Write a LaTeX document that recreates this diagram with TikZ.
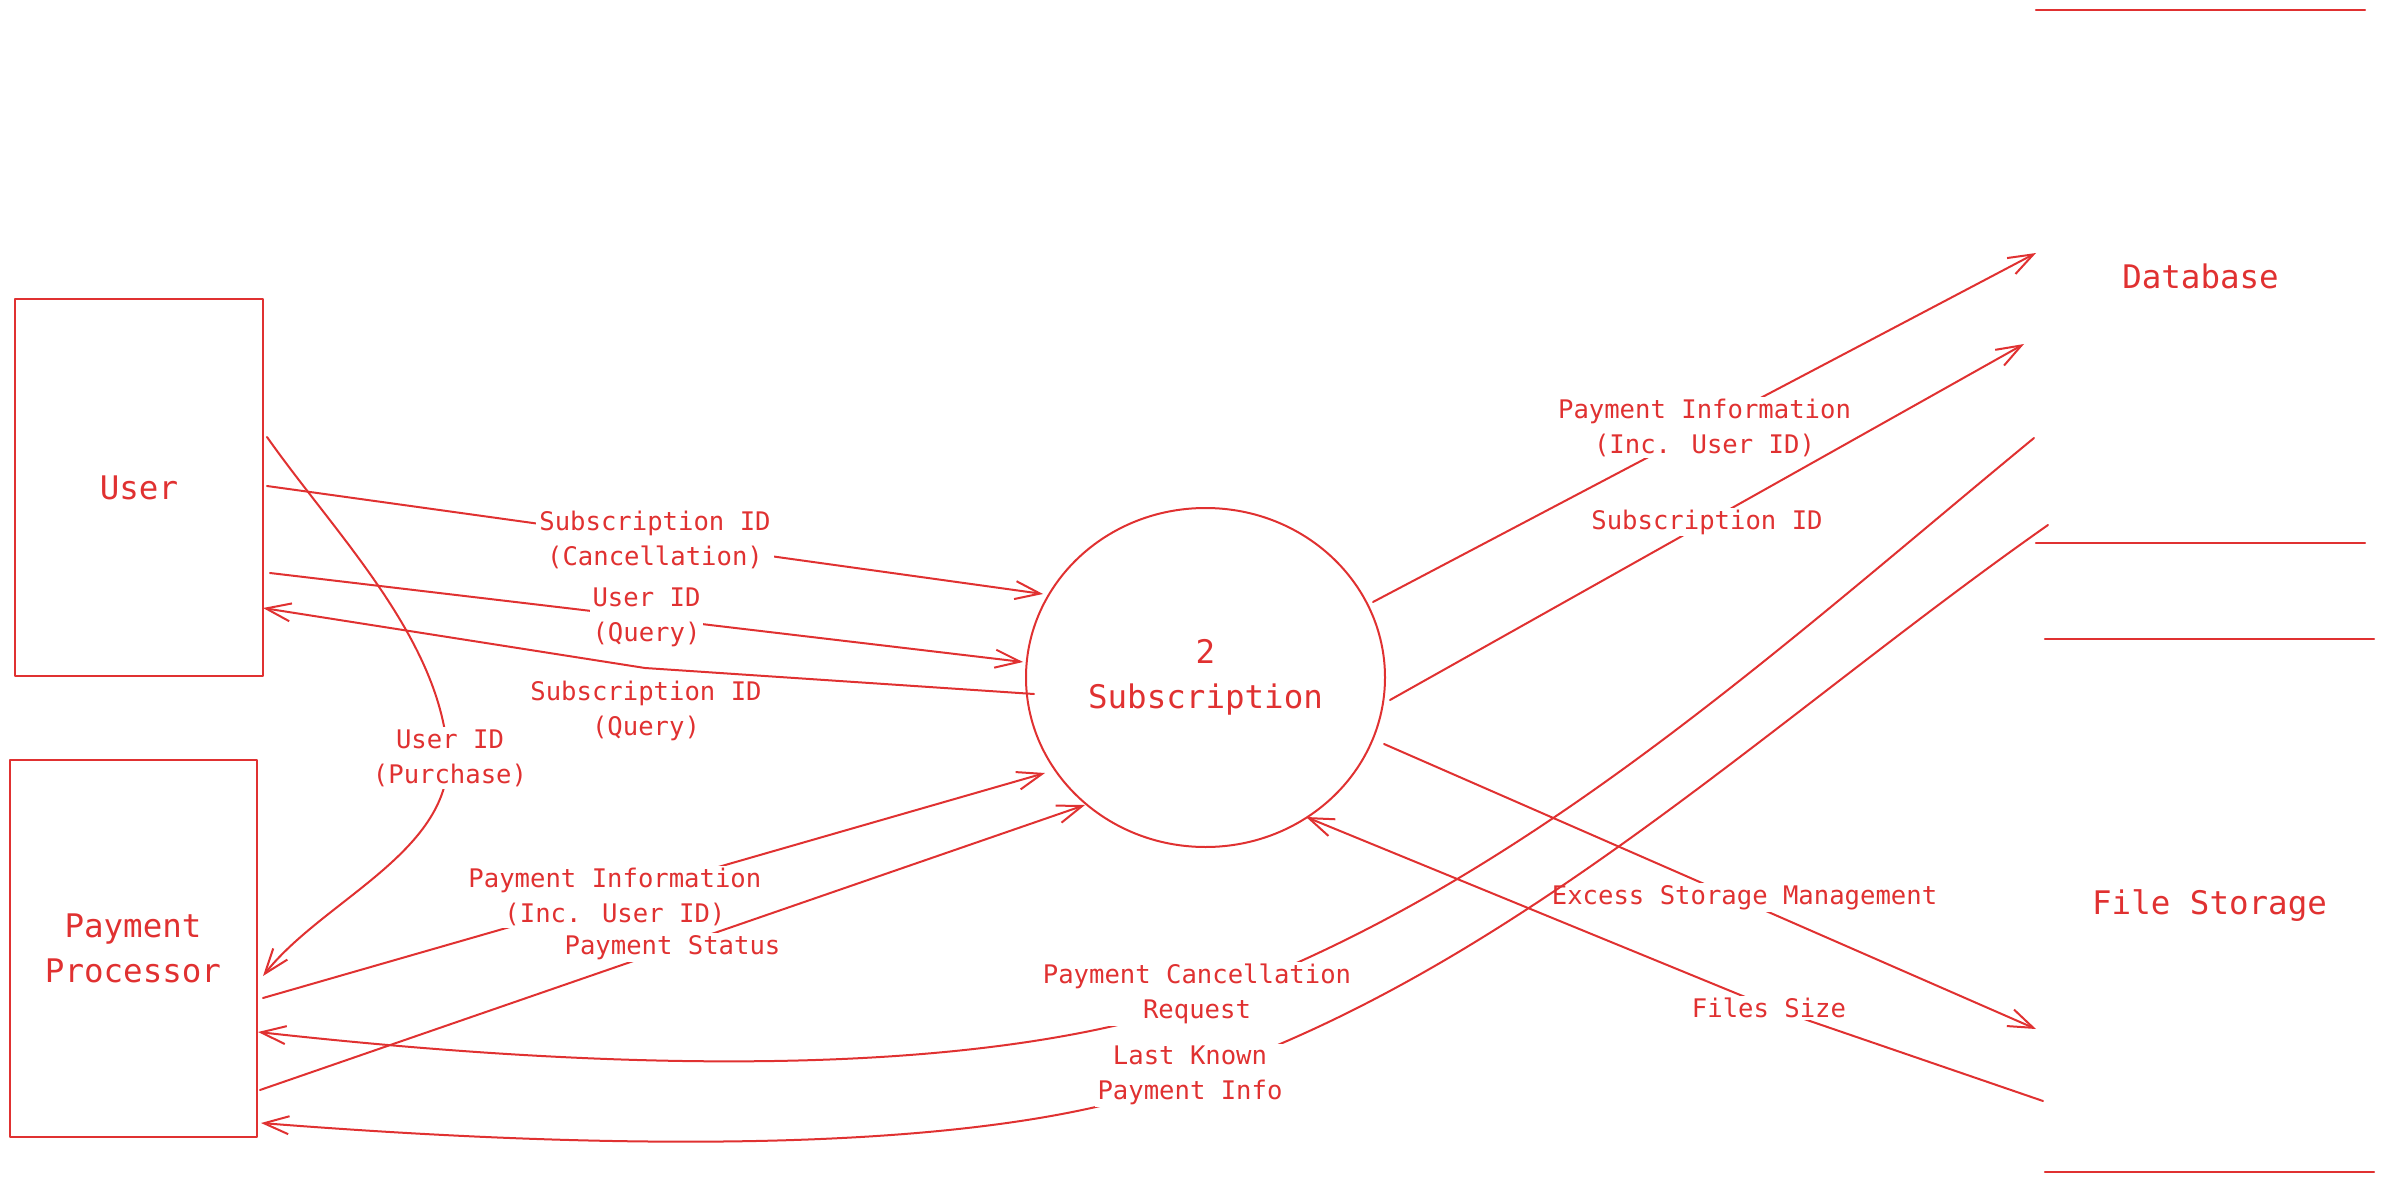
\documentclass[tikz,border=0pt]{standalone}
\usepackage{fontspec}
\newfontfamily\dmono{DejaVu Sans Mono}
\newcommand\mylblfont{\dmono\fontsize{25.6}{35}\selectfont}
\newcommand\mybigfont{\dmono\fontsize{32.5}{45}\selectfont}
\usetikzlibrary{arrows.meta,shapes.geometric}
\definecolor{exred}{HTML}{E03131}
\begin{document}
\begin{tikzpicture}[x=1pt,y=-1pt,
  redline/.style={draw=exred,line width=2pt,line cap=round,line join=round},
  flowarrow/.style={redline,-{Straight Barb[length=25pt,width=18pt]}},
  lbl/.style={fill=white,text=exred,font=\mylblfont,align=center,inner xsep=3pt,inner ysep=2pt},
  bigtext/.style={text=exred,font=\mybigfont,align=center},
  entity/.style={redline,bigtext,inner sep=0pt,rectangle},
  store/.style={bigtext,inner sep=0pt,minimum width=329,minimum height=533}]
\path[use as bounding box] (0,0) rectangle (2383,1182);

% entities and process
\node[entity,minimum width=248,minimum height=377] (user) at (139,487.5) {User};
\node[entity,minimum width=247,minimum height=377] (pp) at (133,948.5) {Payment\\Processor};
\node[redline,bigtext,ellipse,inner sep=0pt,minimum width=359,minimum height=339] (sub) at (1205.5,677.5) {2\\Subscription};

% data stores
\node[store] (db) at (2200.5,276.5) {Database};
\draw[redline] (db.north west) -- (db.north east);
\draw[redline] (db.south west) -- (db.south east);
\node[store] (fs) at (2209.5,905.5) {File Storage};
\draw[redline] (fs.north west) -- (fs.north east);
\draw[redline] (fs.south west) -- (fs.south east);

% connector end points
\coordinate (cA1) at (267,486);  \coordinate (cA2) at (1043,594);
\coordinate (cB1) at (270,573);  \coordinate (cB2) at (1023,662);
\coordinate (cC1) at (1034,694); \coordinate (cCb) at (645,668); \coordinate (cC2) at (263,608);
\coordinate (cD1) at (267,437);  \coordinate (cDm) at (448,758); \coordinate (cD2) at (263,976);
\coordinate (cE1) at (263,998);  \coordinate (cE2) at (1045,773);
\coordinate (cF1) at (260,1090); \coordinate (cF2) at (1085,805);
\coordinate (cG1) at (1373,602); \coordinate (cG2) at (2036,253);
\coordinate (cH1) at (1390,700); \coordinate (cH2) at (2024,344);
\coordinate (cI1) at (1384,744); \coordinate (cI2) at (2036,1029);
\coordinate (cJ1) at (2043,1101); \coordinate (cJb) at (1772,1008); \coordinate (cJ2) at (1306,817);
\coordinate (cK1) at (2034,438); \coordinate (cKm) at (1216,996); \coordinate (cK2) at (258,1032);
\coordinate (cL1) at (2048,525); \coordinate (cLm) at (1191,1078); \coordinate (cL2) at (261,1123);

% User <-> Subscription
\draw[flowarrow] (cA1) -- node[lbl] (lA) {Subscription ID\\(Cancellation)} (cA2);
\draw[flowarrow] (cB1) -- node[lbl] (lB) {User ID\\(Query)} (cB2);
\draw[flowarrow] (cC1) -- (cCb) -- (cC2);
\node[lbl,fill=none] (lC) at (646,711) {Subscription ID\\(Query)};

% User -> Payment Processor
\draw[flowarrow] (cD1) .. controls (336,535) and (442,640) .. (cDm) .. controls (449,853) and (322,901) .. (cD2);
\node[lbl] (lD) at (450,758) {User ID\\(Purchase)};

% Payment Processor -> Subscription
\draw[flowarrow] (cE1) -- node[lbl,pos=0.45] (lE) {Payment Information\\(Inc. User ID)} (cE2);
\draw[flowarrow] (cF1) -- node[lbl] (lF) {Payment Status} (cF2);

% Subscription -> Database
\draw[flowarrow] (cG1) -- node[lbl] (lG) {Payment Information\\(Inc. User ID)} (cG2);
\draw[flowarrow] (cH1) -- node[lbl] (lH) {Subscription ID} (cH2);

% Subscription <-> File Storage
\draw[flowarrow] (cI1) -- node[lbl,pos=0.553,yshift=4pt] (lI) {Excess Storage Management} (cI2);
\draw[flowarrow] (cJ1) -- (cJb) -- (cJ2);
\node[lbl] (lJ) at (1769,1008) {Files Size};

% Database -> Payment Processor
\draw[flowarrow] (cK1) .. controls (1779,648) and (1526,881) .. (cKm) .. controls (982,1083) and (600,1070) .. (cK2);
\node[lbl] (lK) at (1197,994) {Payment Cancellation\\Request};
\draw[flowarrow] (cL1) .. controls (1770,720) and (1513,970) .. (cLm) .. controls (990,1160) and (580,1148) .. (cL2);
\node[lbl] (lL) at (1190,1075) {Last Known\\Payment Info};
\end{tikzpicture}
\end{document}
